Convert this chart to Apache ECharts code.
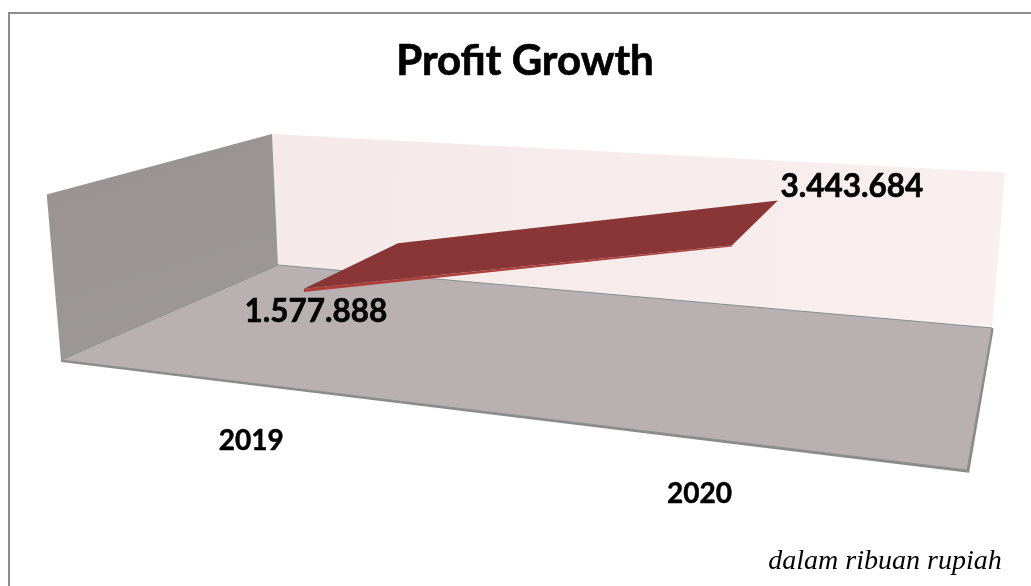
<!DOCTYPE html>
<html><head><meta charset="utf-8">
<style>html,body{margin:0;padding:0;background:#fff}#c{width:1031px;height:586px}</style>
<script src="https://cdn.jsdelivr.net/npm/echarts@6/dist/echarts.min.js"></script>
</head><body><div id="c"></div>
<script>
const titleText = 'Profit Growth';
const noteText = 'dalam ribuan rupiah';
const categories = ['2019', '2020'];
const profit = [1577888, 3443684];
const profitLabels = ['1.577.888', '3.443.684'];

// Projective camera: world (u along categories, v depth, w height), each 0..1
const CAM_X = [704.44, 293.79, -15.66, 61];
const CAM_Y = [12.03, -21.80, -171.13, 360];
const CAM_W = [-0.20844, 0.27621, -0.02939, 1];
const RIBBON_DEPTH = [0.255, 0.77];

function project(u, v, w) {
  const d = CAM_W[0]*u + CAM_W[1]*v + CAM_W[2]*w + CAM_W[3];
  return [(CAM_X[0]*u + CAM_X[1]*v + CAM_X[2]*w + CAM_X[3]) / d,
          (CAM_Y[0]*u + CAM_Y[1]*v + CAM_Y[2]*w + CAM_Y[3]) / d];
}
function face(pts, fill, stroke, lw) {
  return {type:'polygon', shape:{points:pts.map(p=>project(p[0],p[1],p[2]))},
    style:{fill:fill, stroke:stroke||null, lineWidth:lw||0}};
}
function world(api, cs, i) {
  const c = api.coord([i, profit[i]]);
  return [(c[0]-cs.x)/cs.width, 1-(c[1]-cs.y)/cs.height];
}

function renderRoom() {
  const wallGrad = {type:'linear',x:0,y:0,x2:1,y2:0.25,colorStops:[{offset:0,color:'#f5e9e9'},{offset:1,color:'#f9efef'}]};
  const sideGrad = {type:'linear',x:0,y:0,x2:0.3,y2:1,colorStops:[{offset:0,color:'#989392'},{offset:1,color:'#9c9897'}]};
  return {type:'group', children:[
    face([[0,1,0],[1,1,0],[1,1,1],[0,1,1]], wallGrad),
    face([[0,0,0],[0,1,0],[0,1,1],[0,0,1]], sideGrad),
    face([[0,0,-0.012],[1,0,-0.012],[1,0,0],[0,0,0]], '#8a8a8a'),
    face([[1,0,0],[1,1,0],[1.002,1,-0.004],[1.002,0,-0.012],[1,0,-0.012]], '#8a8a8a'),
    face([[0,0,0],[1,0,0],[1,1,0],[0,1,0]], '#b9b1b1', '#8c8c8c', 1)
  ]};
}

function renderRibbon(params, api) {
  const cs = params.coordSys;
  const a = world(api, cs, 0), b = world(api, cs, 1);
  const [vf, vb] = RIBBON_DEPTH;
  const pf = project(a[0], vf, a[1]), pb = project(b[0], vb, b[1]);
  const txt = (s, x, y) => ({type:'text', style:{text:s, x:x, y:y, align:'center', verticalAlign:'middle',
      font:'700 31.5px Lato', fill:'#000', stroke:'#000', lineWidth:0.6}});
  return {type:'group', children:[
    face([[a[0],vf,a[1]-0.02],[b[0],vf,b[1]-0.008],[b[0],vf,b[1]],[a[0],vf,a[1]]], '#ad3f3c'),
    face([[a[0],vf,a[1]],[b[0],vf,b[1]],[b[0],vb,b[1]],[a[0],vb,a[1]]], '#8a3636'),
    txt(profitLabels[0], pf[0]+12, pf[1]+23),
    txt(profitLabels[1], pb[0]+74, pb[1]-14)
  ]};
}

function renderCategory(params, api) {
  const c = api.coord([params.dataIndex, 0]);
  const cs = params.coordSys;
  const p = project((c[0]-cs.x)/cs.width, 0, 0);
  return {type:'text', style:{text:categories[params.dataIndex], x:p[0]+1, y:p[1]+(params.dataIndex?57:58),
    align:'center', verticalAlign:'middle', font:'700 28px Lato', fill:'#000', stroke:'#000', lineWidth:0.5}};
}

const chart = echarts.init(document.getElementById('c'), null, {renderer:'canvas'});
chart.setOption({
  animation:false,
  backgroundColor:'#fff',
  title:[
    {text:titleText, left:520, top:35, textAlign:'center', textStyle:{fontFamily:'Lato', fontWeight:700, fontSize:42, color:'#000', textBorderColor:'#000', textBorderWidth:0.7}},
    {text:noteText, left:880, top:543, textAlign:'center', textStyle:{fontFamily:'Liberation Serif', fontStyle:'italic', fontWeight:400, fontSize:28, color:'#000'}}
  ],
  graphic:[{type:'polyline', shape:{points:[[9,586],[9,13],[1031,13]]}, style:{stroke:'#8c8c8c', lineWidth:2, fill:null}}],
  grid:{left:0, right:0, top:0, bottom:0},
  xAxis:{type:'category', data:categories, show:false},
  yAxis:{type:'value', min:0, max:4050000, show:false},
  series:[
    {type:'custom', silent:true, renderItem:renderRoom, data:[[0,0]], z:1},
    {type:'custom', silent:true, renderItem:renderRibbon, data:[[0,profit[0]]], z:2},
    {type:'custom', silent:true, renderItem:renderCategory, data:categories.map((c,i)=>[i,0]), z:3}
  ]
});
</script></body></html>
